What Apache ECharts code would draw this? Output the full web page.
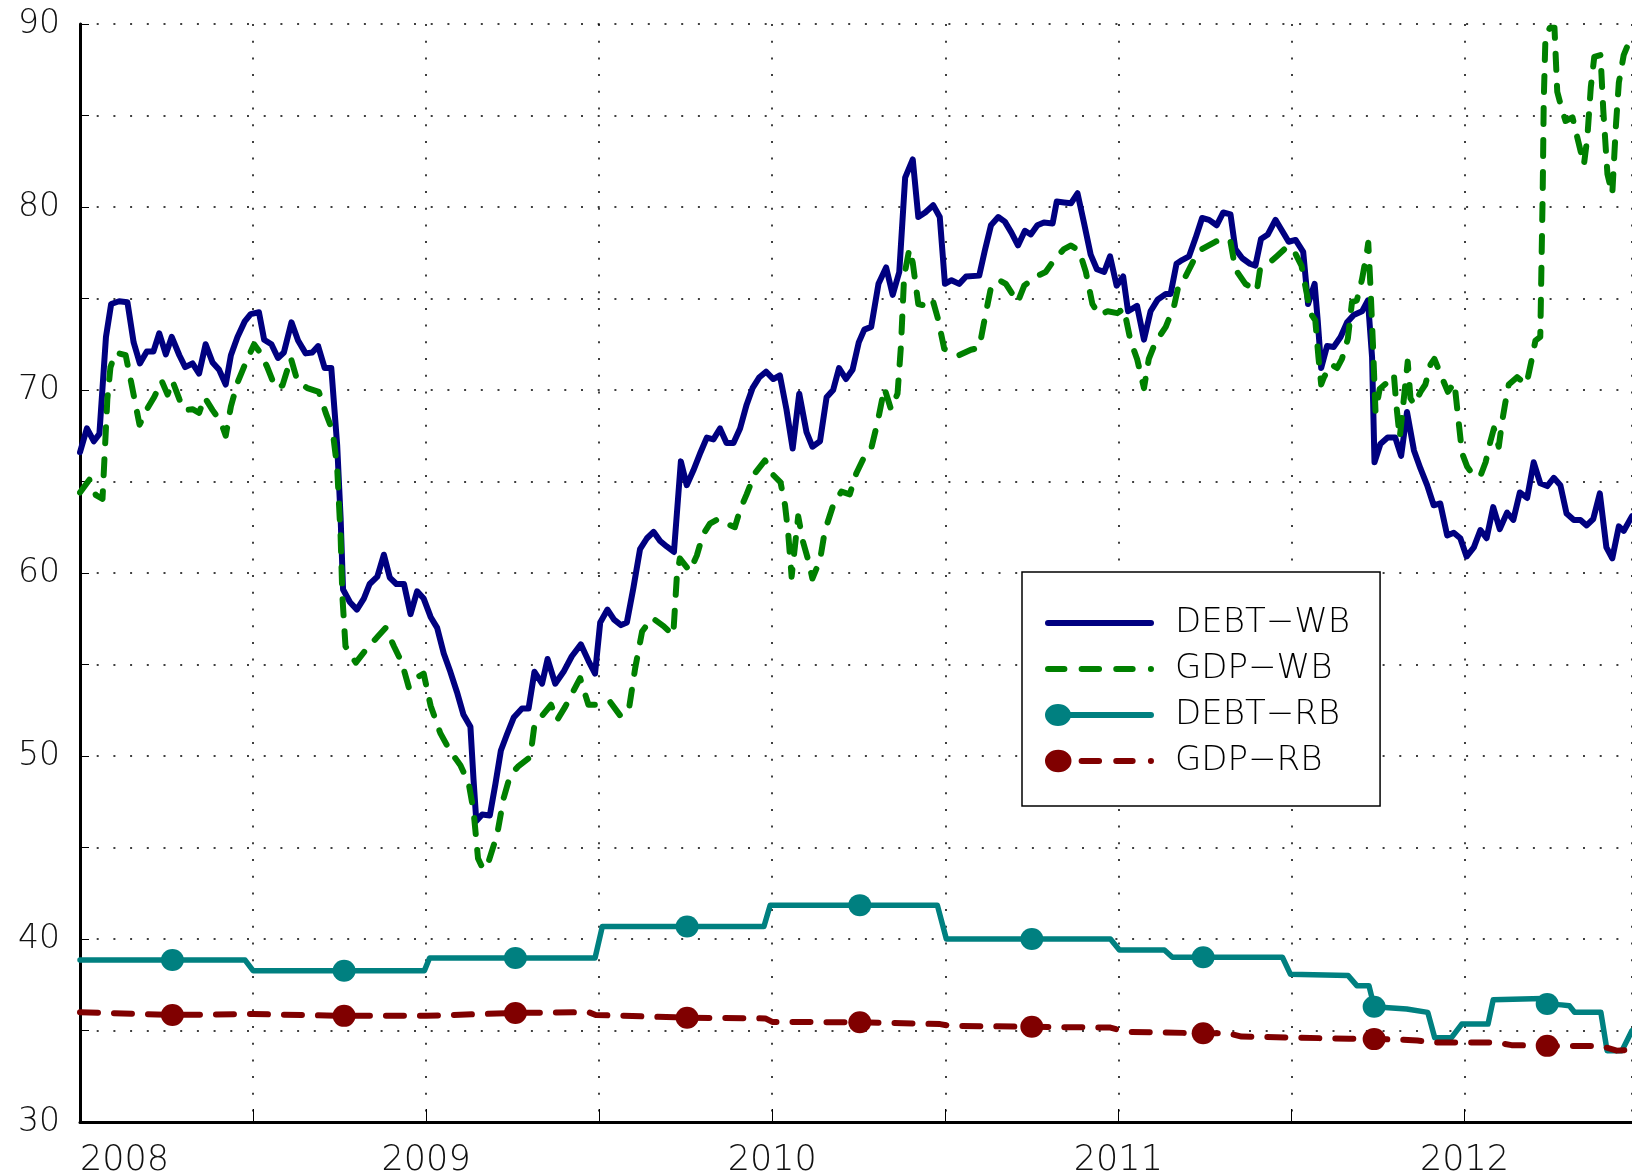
<!DOCTYPE html>
<html>
<head>
<meta charset="utf-8">
<script src="https://cdn.jsdelivr.net/npm/echarts@6/dist/echarts.min.js"></script>
<style>
  html, body { margin: 0; padding: 0; background: #fff; }
  #chart { width: 1632px; height: 1175px; }
</style>
</head>
<body>
<div id="chart"></div>
<script>
// series names
var seriesNames = ['DEBT\u2212WB', 'GDP\u2212WB', 'DEBT\u2212RB', 'GDP\u2212RB']

// DEBT-WB (decimal year, value)
var debtWbDates = [
  2008.000, 2008.020, 2008.040, 2008.056, 2008.075, 2008.090, 2008.113, 2008.137, 2008.155, 2008.173,
  2008.193, 2008.212, 2008.229, 2008.248, 2008.265, 2008.287, 2008.304, 2008.325, 2008.344, 2008.363,
  2008.383, 2008.402, 2008.421, 2008.436, 2008.455, 2008.476, 2008.493, 2008.517, 2008.532, 2008.553,
  2008.572, 2008.589, 2008.611, 2008.630, 2008.652, 2008.671, 2008.688, 2008.707, 2008.726, 2008.743,
  2008.753, 2008.760, 2008.780, 2008.800, 2008.820, 2008.837, 2008.859, 2008.878, 2008.895, 2008.914,
  2008.936, 2008.955, 2008.974, 2008.993, 2009.013, 2009.032, 2009.051, 2009.070, 2009.089, 2009.108,
  2009.128, 2009.137, 2009.145, 2009.162, 2009.184, 2009.200, 2009.216, 2009.234, 2009.253, 2009.277,
  2009.296, 2009.313, 2009.335, 2009.351, 2009.373, 2009.397, 2009.421, 2009.447, 2009.469, 2009.488,
  2009.503, 2009.524, 2009.543, 2009.563, 2009.580, 2009.599, 2009.618, 2009.638, 2009.657, 2009.676,
  2009.695, 2009.716, 2009.736, 2009.753, 2009.772, 2009.793, 2009.811, 2009.830, 2009.849, 2009.868,
  2009.888, 2009.907, 2009.926, 2009.943, 2009.963, 2009.982, 2010.003, 2010.022, 2010.041, 2010.059,
  2010.078, 2010.099, 2010.116, 2010.138, 2010.157, 2010.176, 2010.193, 2010.213, 2010.232, 2010.250,
  2010.266, 2010.286, 2010.307, 2010.329, 2010.348, 2010.367, 2010.384, 2010.406, 2010.422, 2010.442,
  2010.465, 2010.484, 2010.499, 2010.518, 2010.540, 2010.560, 2010.598, 2010.614, 2010.632, 2010.653,
  2010.672, 2010.691, 2010.710, 2010.730, 2010.747, 2010.766, 2010.785, 2010.810, 2010.822, 2010.843,
  2010.863, 2010.882, 2010.901, 2010.920, 2010.938, 2010.959, 2010.976, 2010.995, 2011.014, 2011.028,
  2011.054, 2011.074, 2011.093, 2011.114, 2011.137, 2011.151, 2011.168, 2011.184, 2011.204, 2011.223,
  2011.242, 2011.262, 2011.284, 2011.303, 2011.324, 2011.338, 2011.358, 2011.380, 2011.396, 2011.412,
  2011.432, 2011.454, 2011.473, 2011.492, 2011.512, 2011.534, 2011.548, 2011.567, 2011.576, 2011.586,
  2011.603, 2011.622, 2011.642, 2011.661, 2011.680, 2011.704, 2011.721, 2011.733, 2011.740, 2011.757,
  2011.778, 2011.800, 2011.817, 2011.834, 2011.854, 2011.873, 2011.892, 2011.911, 2011.930, 2011.950,
  2011.969, 2011.988, 2012.006, 2012.027, 2012.046, 2012.064, 2012.083, 2012.102, 2012.123, 2012.141,
  2012.160, 2012.181, 2012.200, 2012.219, 2012.239, 2012.258, 2012.277, 2012.295, 2012.316, 2012.335,
  2012.353, 2012.372, 2012.391, 2012.410, 2012.427, 2012.446, 2012.460, 2012.484
]
var debtWbValues = [
  66.6, 67.9, 67.2, 67.6, 72.9, 74.7, 74.85, 74.8, 72.6, 71.45,
  72.1, 72.1, 73.1, 71.95, 72.9, 71.9, 71.25, 71.45, 70.9, 72.5,
  71.5, 71.1, 70.3, 71.9, 72.9, 73.75, 74.15, 74.25, 72.75, 72.5,
  71.75, 72.05, 73.7, 72.7, 72.0, 72.05, 72.4, 71.2, 71.2, 67.0,
  63.0, 59.1, 58.4, 58.0, 58.6, 59.4, 59.8, 61.0, 59.75, 59.4,
  59.4, 57.75, 59.0, 58.6, 57.6, 57.0, 55.6, 54.6, 53.5, 52.25,
  51.6, 48.7, 46.45, 46.8, 46.75, 48.45, 50.3, 51.2, 52.1, 52.6,
  52.6, 54.6, 53.95, 55.3, 53.95, 54.6, 55.45, 56.1, 55.2, 54.5,
  57.3, 58.0, 57.45, 57.15, 57.3, 59.2, 61.3, 61.9, 62.25, 61.75,
  61.45, 61.15, 66.1, 64.8, 65.6, 66.6, 67.4, 67.3, 67.9, 67.1,
  67.1, 67.9, 69.2, 70.1, 70.7, 71.0, 70.6, 70.8, 68.95, 66.8,
  69.8, 67.7, 66.9, 67.2, 69.6, 70.0, 71.2, 70.6, 71.1, 72.6,
  73.3, 73.45, 75.8, 76.7, 75.2, 76.45, 81.6, 82.6, 79.45, 79.7,
  80.1, 79.45, 75.8, 76.0, 75.8, 76.2, 76.25, 77.6, 79.0, 79.45,
  79.2, 78.6, 77.9, 78.7, 78.5, 79.0, 79.15, 79.1, 80.3, 80.25,
  80.2, 80.75, 79.1, 77.4, 76.6, 76.45, 77.3, 75.7, 76.2, 74.3,
  74.6, 72.75, 74.3, 74.95, 75.25, 75.25, 76.9, 77.1, 77.3, 78.3,
  79.4, 79.3, 79.0, 79.7, 79.6, 77.7, 77.2, 76.9, 76.8, 78.25,
  78.5, 79.3, 78.7, 78.1, 78.2, 77.55, 74.7, 75.8, 73.8, 71.2,
  72.4, 72.35, 72.9, 73.7, 74.1, 74.3, 74.9, 71.8, 66.05, 67.05,
  67.4, 67.4, 66.4, 68.8, 66.7, 65.7, 64.8, 63.7, 63.8, 62.05,
  62.2, 61.9, 60.9, 61.4, 62.35, 61.9, 63.6, 62.4, 63.3, 62.9,
  64.4, 64.1, 66.05, 64.9, 64.75, 65.2, 64.8, 63.25, 62.9, 62.9,
  62.6, 62.95, 64.35, 61.4, 60.8, 62.55, 62.3, 63.1
]

// GDP-WB
var gdpWbDates = [
  2008.000, 2008.027, 2008.046, 2008.065, 2008.079, 2008.088, 2008.103, 2008.132, 2008.147, 2008.172,
  2008.195, 2008.214, 2008.236, 2008.253, 2008.267, 2008.287, 2008.301, 2008.325, 2008.344, 2008.360,
  2008.383, 2008.407, 2008.421, 2008.436, 2008.455, 2008.479, 2008.503, 2008.522, 2008.541, 2008.565,
  2008.585, 2008.599, 2008.609, 2008.628, 2008.657, 2008.690, 2008.710, 2008.730, 2008.743, 2008.753,
  2008.758, 2008.767, 2008.797, 2008.830, 2008.859, 2008.883, 2008.907, 2008.930, 2008.950, 2008.969,
  2008.993, 2009.013, 2009.041, 2009.070, 2009.099, 2009.123, 2009.137, 2009.150, 2009.165, 2009.180,
  2009.205, 2009.224, 2009.243, 2009.267, 2009.301, 2009.313, 2009.335, 2009.361, 2009.378, 2009.402,
  2009.445, 2009.469, 2009.503, 2009.532, 2009.561, 2009.585, 2009.604, 2009.624, 2009.653, 2009.686,
  2009.714, 2009.724, 2009.733, 2009.762, 2009.782, 2009.800, 2009.820, 2009.844, 2009.868, 2009.892,
  2009.907, 2009.926, 2009.950, 2009.979, 2009.998, 2010.024, 2010.037, 2010.046, 2010.056, 2010.075,
  2010.089, 2010.104, 2010.116, 2010.138, 2010.152, 2010.176, 2010.200, 2010.224, 2010.243, 2010.262,
  2010.286, 2010.305, 2010.324, 2010.343, 2010.362, 2010.372, 2010.381, 2010.396, 2010.406, 2010.422,
  2010.444, 2010.463, 2010.478, 2010.497, 2010.516, 2010.540, 2010.574, 2010.598, 2010.617, 2010.632,
  2010.656, 2010.675, 2010.709, 2010.728, 2010.762, 2010.790, 2010.814, 2010.843, 2010.863, 2010.887,
  2010.906, 2010.925, 2010.945, 2010.969, 2010.997, 2011.016, 2011.035, 2011.054, 2011.074, 2011.088,
  2011.107, 2011.137, 2011.161, 2011.175, 2011.194, 2011.218, 2011.242, 2011.280, 2011.305, 2011.324,
  2011.338, 2011.367, 2011.400, 2011.409, 2011.433, 2011.457, 2011.486, 2011.505, 2011.529, 2011.544,
  2011.555, 2011.569, 2011.578, 2011.586, 2011.594, 2011.615, 2011.632, 2011.646, 2011.663, 2011.675,
  2011.689, 2011.704, 2011.717, 2011.722, 2011.728, 2011.736, 2011.743, 2011.755, 2011.776, 2011.796,
  2011.803, 2011.813, 2011.823, 2011.836, 2011.844, 2011.855, 2011.873, 2011.887, 2011.902, 2011.913,
  2011.930, 2011.952, 2011.971, 2011.980, 2011.993, 2012.008, 2012.027, 2012.046, 2012.061, 2012.075,
  2012.085, 2012.099, 2012.109, 2012.118, 2012.128, 2012.152, 2012.179, 2012.193, 2012.205, 2012.219,
  2012.222, 2012.226, 2012.229, 2012.234, 2012.247, 2012.260, 2012.268, 2012.282, 2012.292, 2012.312,
  2012.326, 2012.345, 2012.355, 2012.365, 2012.375, 2012.393, 2012.401, 2012.413, 2012.427, 2012.437,
  2012.446, 2012.460, 2012.484
]
var gdpWbValues = [
  64.4, 65.1, 64.25, 64.05, 69.5, 71.25, 72.05, 71.9, 70.5, 68.1,
  69.0, 69.6, 70.5, 69.75, 70.5, 69.5, 68.9, 68.95, 68.75, 69.6,
  68.9, 68.25, 67.5, 69.1, 70.4, 71.5, 72.5, 72.0, 71.25, 70.1,
  70.25, 71.1, 71.75, 70.5, 70.1, 69.9, 68.75, 67.75, 65.75, 62.0,
  58.75, 56.0, 55.1, 55.9, 56.5, 57.0, 56.0, 55.1, 53.75, 54.25,
  54.5, 52.75, 51.25, 50.25, 49.5, 48.5, 47.0, 44.4, 43.8, 44.2,
  45.7, 47.7, 48.95, 49.45, 49.95, 51.7, 52.2, 52.8, 51.95, 52.7,
  54.25, 52.8, 52.8, 52.95, 52.2, 52.45, 54.8, 56.8, 57.55, 57.1,
  56.6, 59.7, 60.8, 60.1, 60.95, 62.1, 62.7, 62.95, 62.7, 62.5,
  63.45, 64.3, 65.45, 66.15, 65.45, 64.95, 63.7, 62.2, 59.8, 63.1,
  61.7, 60.7, 59.7, 60.7, 62.3, 63.7, 64.45, 64.3, 65.45, 66.2,
  66.8, 68.3, 70.1, 68.95, 69.8, 72.45, 76.2, 77.7, 76.95, 74.7,
  74.6, 74.95, 73.95, 72.25, 72.1, 71.9, 72.2, 72.3, 74.2, 75.6,
  76.0, 75.8, 74.8, 75.7, 76.2, 76.45, 77.1, 77.7, 77.9, 77.6,
  76.45, 74.7, 74.1, 74.3, 74.2, 74.45, 72.7, 71.7, 70.1, 71.7,
  72.6, 73.45, 74.6, 75.8, 76.2, 77.1, 77.7, 78.1, 78.3, 78.1,
  76.6, 75.8, 75.4, 76.55, 76.9, 77.3, 77.8, 77.7, 76.8, 75.3,
  74.2, 73.8, 71.8, 70.3, 70.7, 71.4, 71.2, 71.7, 72.8, 74.8,
  74.9, 76.05, 77.4, 78.05, 75.8, 72.3, 68.8, 70.05, 70.4, 70.85,
  69.2, 67.4, 69.2, 71.55, 69.55, 69.2, 69.9, 70.3, 71.4, 71.7,
  70.9, 69.9, 70.4, 68.8, 66.55, 65.8, 65.3, 65.3, 66.05, 67.2,
  67.9, 66.9, 68.3, 69.3, 70.3, 70.7, 70.3, 71.55, 72.7, 72.9,
  76.3, 80.8, 85.8, 89.3, 89.8, 89.8, 86.3, 85.3, 84.7, 84.9,
  83.8, 82.3, 83.8, 86.55, 88.2, 88.3, 85.3, 81.8, 80.7, 84.3,
  86.8, 88.3, 89.4
]

// DEBT-RB
var debtRbDates = [
  2008.000, 2008.267, 2008.477, 2008.500, 2008.763, 2008.995, 2009.010, 2009.258, 2009.488, 2009.509,
  2009.754, 2009.976, 2009.994, 2010.253, 2010.477, 2010.503, 2010.750, 2010.977, 2011.003, 2011.133,
  2011.156, 2011.245, 2011.474, 2011.497, 2011.664, 2011.689, 2011.724, 2011.739, 2011.833, 2011.894,
  2011.914, 2011.962, 2011.992, 2012.068, 2012.083, 2012.225, 2012.239, 2012.280, 2012.303, 2012.318,
  2012.394, 2012.412, 2012.455, 2012.484
]
var debtRbValues = [
  38.85, 38.85, 38.85, 38.27, 38.27, 38.27, 38.96, 38.96, 38.96, 40.68,
  40.68, 40.68, 41.85, 41.85, 41.85, 40.0, 40.0, 40.0, 39.4, 39.4,
  39.0, 39.0, 39.0, 38.08, 38.0, 37.45, 37.45, 36.3, 36.17, 35.99,
  34.6, 34.6, 35.35, 35.35, 36.68, 36.75, 36.45, 36.4, 36.35, 36.0,
  36.0, 33.9, 33.9, 35.0
]

// GDP-RB
var gdpRbDates = [
  2008.000, 2008.267, 2008.500, 2008.763, 2009.000, 2009.258, 2009.470, 2009.490, 2009.754, 2009.980,
  2010.000, 2010.253, 2010.485, 2010.510, 2010.750, 2010.977, 2011.023, 2011.245, 2011.318, 2011.356,
  2011.667, 2011.739, 2011.818, 2011.864, 2011.909, 2012.091, 2012.136, 2012.239, 2012.394, 2012.440,
  2012.484
]
var gdpRbValues = [
  36.0, 35.85, 35.9, 35.8, 35.8, 35.96, 36.0, 35.85, 35.7, 35.66,
  35.47, 35.45, 35.35, 35.26, 35.2, 35.16, 34.93, 34.85, 34.85, 34.67,
  34.55, 34.53, 34.5, 34.45, 34.34, 34.34, 34.2, 34.16, 34.15, 33.9,
  33.95
]

// dates where the RB series carry a marker
var rbMarkerDates = [2008.267, 2008.763, 2009.258, 2009.754, 2010.253, 2010.750, 2011.245, 2011.739, 2012.239]

var FONT = 'DejaVu Sans'
var dotted = [2, 14.7]

function zip (xs, ys) {
  var out = []
  for (var i = 0; i < xs.length; i++) out.push([xs[i], ys[i]])
  return out
}

function markerSize (val) {
  return rbMarkerDates.indexOf(val[0]) >= 0 ? [23, 22] : 0
}

// legend icons: round-capped bars and a leading dot, drawn in a 109px wide box
function bar (a, b) {
  return 'M' + (a + 3) + ',0 H' + (b - 3) + ' A3,3 0 0 1 ' + (b - 3) + ',6 H' + (a + 3) +
    ' A3,3 0 0 1 ' + (a + 3) + ',0 Z '
}
var dot = 'M0,3 A13,11 0 1 1 26,3 A13,11 0 1 1 0,3 Z '
var dashes = bar(33, 56) + bar(67, 89) + bar(101, 107)
var legendIcons = [
  'path://' + bar(0, 109),
  'path://' + bar(0, 22) + dashes,
  'path://' + dot + bar(0, 109),
  'path://' + dot + dashes
]

var chart = echarts.init(document.getElementById('chart'))

chart.setOption({
  animation: false,
  backgroundColor: '#fff',
  grid: { left: 80, right: 0, top: 24, bottom: 53, containLabel: false, outerBoundsMode: 'none' },
  legend: {
    orient: 'vertical',
    left: 1022,
    top: 572,
    backgroundColor: '#fff',
    borderColor: '#000',
    borderWidth: 1.5,
    borderRadius: 0,
    padding: [28, 30, 22, 23],
    itemWidth: 109,
    itemHeight: 28,
    itemGap: 0,
    symbolKeepAspect: true,
    textStyle: { fontFamily: FONT, fontWeight: 200, fontSize: 34, color: '#000', lineHeight: 46, padding: [0, 0, 0, 16] },
    data: seriesNames.map(function (n, i) { return { name: n, icon: legendIcons[i] } })
  },
  xAxis: {
    type: 'value',
    min: 2008,
    max: 2012.484,
    interval: 0.5,
    axisLine: { show: true, lineStyle: { color: '#000', width: 3 } },
    axisTick: { show: true, inside: true, length: 13, lineStyle: { color: '#000', width: 1 } },
    axisLabel: {
      margin: 21,
      fontFamily: FONT,
      fontWeight: 200,
      fontSize: 35,
      color: '#111',
      alignMinLabel: 'left',
      showMaxLabel: false,
      formatter: function (v) { return (Math.abs(v - Math.round(v)) < 1e-6) ? String(Math.round(v)) : '' }
    },
    splitLine: { show: true, lineStyle: { color: '#000', width: 1.5, type: dotted } }
  },
  yAxis: {
    type: 'value',
    min: 30,
    max: 90,
    interval: 5,
    axisLine: { show: true, lineStyle: { color: '#000', width: 3 } },
    axisTick: { show: true, inside: true, length: 9, lineStyle: { color: '#000', width: 1 } },
    axisLabel: {
      margin: 20,
      fontFamily: FONT,
      fontWeight: 200,
      fontSize: 33,
      color: '#111',
      formatter: function (v) { return v % 10 === 0 ? String(v) : '' }
    },
    splitLine: { show: true, lineStyle: { color: '#000', width: 1.5, type: dotted } }
  },
  series: [
    {
      name: seriesNames[0],
      type: 'line',
      data: zip(debtWbDates, debtWbValues),
      symbol: 'none',
      lineStyle: { color: '#000080', width: 6, join: 'round', cap: 'round' },
      itemStyle: { color: '#000080' }
    },
    {
      name: seriesNames[1],
      type: 'line',
      data: zip(gdpWbDates, gdpWbValues),
      symbol: 'none',
      lineStyle: { color: '#008000', width: 6, type: [16, 16], join: 'round', cap: 'round' },
      itemStyle: { color: '#008000' }
    },
    {
      name: seriesNames[2],
      type: 'line',
      data: zip(debtRbDates, debtRbValues),
      symbol: 'circle',
      symbolSize: markerSize,
      showSymbol: true,
      showAllSymbol: true,
      lineStyle: { color: '#008080', width: 5.5, join: 'round', cap: 'round' },
      itemStyle: { color: '#008080' }
    },
    {
      name: seriesNames[3],
      type: 'line',
      data: zip(gdpRbDates, gdpRbValues),
      symbol: 'circle',
      symbolSize: markerSize,
      showSymbol: true,
      showAllSymbol: true,
      lineStyle: { color: '#800000', width: 6, type: [18, 16], join: 'round', cap: 'round' },
      itemStyle: { color: '#800000' }
    }
  ]
})
</script>
</body>
</html>
